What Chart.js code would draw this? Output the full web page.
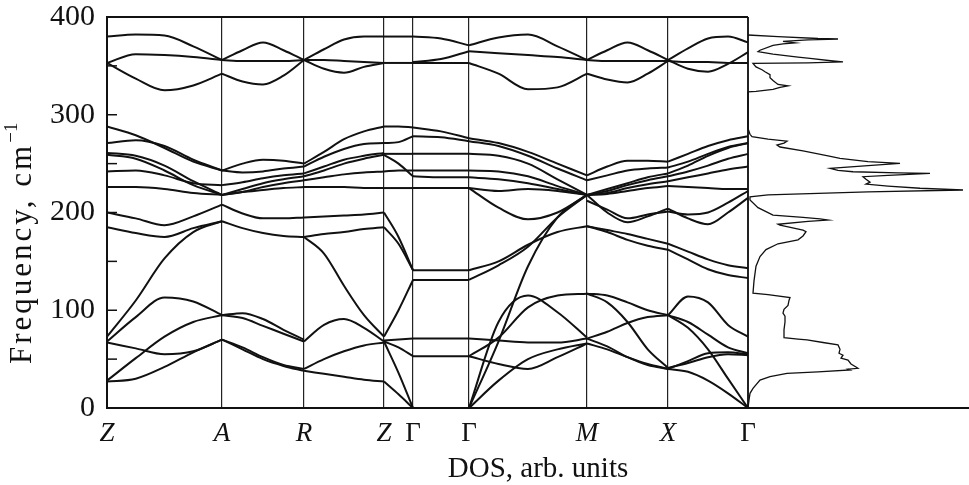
<!DOCTYPE html>
<html>
<head>
<meta charset="utf-8">
<script src="https://cdn.jsdelivr.net/npm/chart.js@4.4.0/dist/chart.umd.min.js"></script>
<style>
    body { margin: 0; background: #fff; }
    #wrap { width: 969px; height: 485px; }
</style>
</head>
<body>
<div id="wrap"><canvas id="phonons" width="969" height="485"></canvas></div>
<script>
// high-symmetry points along the path (path units)
const kPos = [0, 115, 197, 277, 306, 362, 480, 561, 641];
const kLabels = ["Z", "A", "R", "Z", "Γ", "Γ", "M", "X", "Γ"];
const freqTicks = [0, 100, 200, 300, 400];

// branches of each segment, frequency (cm-1) at evenly spaced points
const bandsZA = [
    [380, 382, 381, 370, 356], [353, 362, 361, 359, 356], [353, 337, 325, 330, 342],
    [288, 279, 266, 252, 243], [271, 274, 268, 254, 243], [261, 258, 248, 232, 218],
    [259, 255, 243, 228, 218], [242, 243, 238, 230, 228], [226, 226, 224, 220, 218],
    [200, 194, 187, 196, 208], [185, 179, 175, 184, 191], [73, 110, 153, 180, 191],
    [68, 93, 113, 109, 95], [28, 51, 73, 88, 95], [67, 61, 55, 58, 70], [27, 30, 42, 57, 70],
];
const bandsAR = [
    [356, 366, 374, 366, 356], [356, 355, 355, 355, 356], [342, 334, 331, 340, 356],
    [243, 250, 254, 253, 250], [243, 241, 242, 245, 247], [228, 231, 235, 238, 240],
    [218, 224, 230, 234, 237], [218, 221, 226, 230, 233], [218, 221, 223, 225, 226],
    [208, 199, 194, 194, 195], [191, 184, 179, 176, 175],
    [95, 97, 91, 80, 70], [95, 92, 84, 76, 68], [70, 62, 52, 44, 40], [70, 60, 50, 43, 38],
];
const bandsRZ = [
    [356, 367, 377, 380, 380], [356, 356, 355, 354, 353], [356, 347, 343, 349, 353],
    [250, 262, 275, 283, 288], [247, 257, 265, 270, 271], [240, 247, 254, 258, 261],
    [237, 243, 250, 255, 259], [233, 236, 239, 241, 242], [226, 226, 226, 225, 225],
    [195, 196, 197, 198, 200], [175, 178, 180, 183, 185], [175, 158, 125, 95, 73],
    [68, 85, 91, 82, 68], [40, 50, 58, 64, 67], [38, 35, 32, 29, 27],
];
const bandsZG = [
    [380, 380, 380], [353, 353, 353],
    [288, 288, 287], [271, 272, 278], [260, 260, 260], [259, 250, 237], [242, 243, 243], [225, 225, 225],
    [200, 175, 141], [185, 168, 141], [73, 100, 131], [69, 70, 71], [68, 62, 53], [68, 36, 0], [27, 14, 0],
];
const bandsGG = [
    [380, 378, 371], [353, 353, 353], [354, 357, 365],
    [287, 283, 276], [278, 277, 273], [260, 260, 260], [243, 243, 243], [237, 236, 236], [225, 225, 225],
    [141, 141, 141], [131, 131, 131], [71, 71, 71], [53, 53, 53],
];
const bandsGM = [
    [371, 379, 382, 370, 356], [365, 363, 361, 359, 356], [353, 342, 326, 328, 342],
    [276, 271, 262, 250, 238], [273, 268, 258, 245, 233], [260, 258, 250, 234, 218],
    [243, 242, 237, 227, 218], [236, 234, 230, 224, 218], [225, 222, 224, 222, 218],
    [225, 205, 193, 200, 218],
    [141, 150, 167, 180, 186], [131, 146, 165, 195, 218], [0, 68, 145, 195, 218],
    [71, 69, 67, 67, 71], [53, 72, 103, 115, 117], [53, 45, 40, 52, 66],
    [0, 88, 115, 98, 72], [0, 28, 50, 60, 66],
];
const bandsMX = [
    [356, 366, 374, 366, 356], [356, 355, 355, 355, 355], [342, 336, 333, 342, 355],
    [238, 247, 253, 253, 252], [233, 238, 243, 245, 246], [218, 224, 230, 236, 240],
    [218, 222, 228, 233, 237], [218, 220, 225, 229, 232], [218, 219, 222, 225, 227],
    [218, 200, 190, 196, 204], [212, 203, 194, 198, 201],
    [186, 182, 178, 173, 168], [186, 180, 172, 166, 162],
    [117, 115, 108, 100, 95], [71, 78, 87, 93, 95], [117, 108, 88, 60, 41],
    [71, 63, 52, 44, 40], [66, 60, 52, 45, 40],
];
const bandsXG = [
    [356, 368, 378, 380, 374], [356, 347, 344, 352, 364], [355, 354, 354, 353, 353],
    [252, 260, 268, 274, 278], [246, 252, 260, 267, 271], [240, 248, 258, 266, 271],
    [237, 242, 248, 255, 260], [232, 236, 240, 244, 247], [227, 226, 225, 224, 224],
    [204, 194, 188, 200, 215], [201, 198, 200, 210, 222],
    [168, 160, 152, 146, 143], [162, 152, 142, 136, 133],
    [95, 114, 108, 85, 73], [95, 88, 75, 62, 56], [95, 82, 60, 30, 0],
    [40, 48, 56, 57, 55], [41, 46, 52, 55, 54], [40, 37, 28, 15, 0],
];
const segments = [bandsZA, bandsAR, bandsRZ, bandsZG, bandsGG, bandsGM, bandsMX, bandsXG];

// phonon density of states, traced top to bottom
const dosFreq = [
    381.6, 380, 378, 377.5, 376.5, 375, 373.5, 372.5, 371, 366, 364.5, 362, 359, 357.7, 355, 354, 353,
    352.5, 349, 346, 344, 341, 338, 335, 331, 329.5, 328, 326, 324, 323.5, 300, 286, 280, 277.5, 275,
    273, 271, 269, 267, 263, 258, 255.4, 252, 250.3, 248, 245.2, 243, 241.7, 240.5, 240, 238, 236.6,
    234, 231, 229, 227, 224.8, 223, 221, 218, 216, 212.8, 205, 197.4, 195, 193.5, 192.3, 191, 188, 187,
    182, 180.4, 176, 172, 168, 162, 155, 145, 130, 117.5, 116, 113, 110, 105, 101, 97, 94, 88, 80, 72,
    70.5, 69.6, 67, 64.5, 60, 56, 54, 51, 49, 45, 42, 40.6, 39.8, 38.9, 37, 35.5, 32, 28.6, 20, 15, 8, 0,
];
const dosValue = [
    0, 30, 70, 90, 60, 35, 47, 35, 25, 12, 10, 25, 50, 62, 85, 95, 60,
    5, 8, 14, 17, 22, 22, 25, 30, 40, 32, 25, 8, 0, 0, 0, 2, 4, 20,
    39, 36, 29, 32, 55, 80, 92, 120, 152, 120, 82, 90, 105, 150, 182, 140, 115,
    118, 122, 118, 140, 172, 215, 120, 20, 2, 2, 10, 25, 55, 72, 80, 60, 30, 32,
    55, 58, 55, 50, 30, 18, 12, 8, 6, 5, 20, 42, 41, 40, 36, 35, 37, 37, 36, 36,
    50, 59, 75, 90, 92, 91, 95, 93, 100, 103, 108, 110, 100, 102, 70, 39, 22, 12, 5, 2, 1, 0,
];

const serif = "'Liberation Serif', 'DejaVu Serif', serif";
const ink = "#111";

const datasets = [];
segments.forEach((bands, s) => {
    const x0 = kPos[s];
    const x1 = kPos[s + 1];
    bands.forEach((b) => {
        const n = b.length - 1;
        datasets.push({
            data: b.map((f, i) => ({ x: x0 + ((x1 - x0) * i) / n, y: f })),
            borderColor: ink,
            borderWidth: 2,
            pointRadius: 0,
            cubicInterpolationMode: "monotone",
        });
    });
});
datasets.push({
    data: dosFreq.map((f, i) => ({ x: dosValue[i], y: f })),
    xAxisID: "xd",
    borderColor: ink,
    borderWidth: 1.3,
    pointRadius: 0,
    tension: 0,
});

// top border of the dispersion panel, inner ticks and the y title
const framePlugin = {
    id: "frame",
    afterDraw(chart) {
        const { ctx, chartArea: a, scales } = chart;
        const x = scales.x;
        const y = scales.y;
        ctx.save();
        ctx.strokeStyle = ink;
        ctx.lineWidth = 2;
        ctx.beginPath();
        ctx.moveTo(a.left, a.top);
        ctx.lineTo(x.getPixelForValue(kPos[kPos.length - 1]), a.top);
        ctx.stroke();

        ctx.lineWidth = 1.5;
        for (let f = 50; f < 400; f += 50) {
            const py = y.getPixelForValue(f);
            ctx.beginPath();
            ctx.moveTo(a.left, py);
            ctx.lineTo(a.left + 10, py);
            ctx.stroke();
        }

        ctx.fillStyle = ink;
        ctx.translate(23, 364);
        ctx.rotate(-Math.PI / 2);
        ctx.textBaseline = "middle";
        ctx.textAlign = "left";
        ctx.font = "31px " + serif;
        ctx.letterSpacing = "3px";
        const main = "Frequency, cm";
        ctx.fillText(main, 0, 0);
        const w = ctx.measureText(main).width;
        ctx.font = "19px " + serif;
        ctx.letterSpacing = "0px";
        ctx.fillText("\u22121", w, -11);
        ctx.restore();
    },
};

new Chart(document.getElementById("phonons"), {
    type: "line",
    data: { datasets },
    options: {
        responsive: false,
        animation: false,
        devicePixelRatio: 1,
        layout: { padding: { top: 17, right: 0, left: 0, bottom: 0 } },
        plugins: { legend: { display: false }, tooltip: { enabled: false } },
        scales: {
            x: {
                type: "linear",
                min: 0,
                max: 862,
                afterFit: (scale) => {
                    scale.height = 77;
                    scale.paddingLeft = 0;
                    scale.paddingRight = 0;
                },
                afterBuildTicks: (scale) => {
                    scale.ticks = kPos.map((v) => ({ value: v }));
                },
                ticks: {
                    autoSkip: false,
                    maxRotation: 0,
                    padding: 10,
                    color: ink,
                    font: (c) => ({
                        family: serif,
                        size: 27,
                        style: kLabels[c.index] === "Γ" ? "normal" : "italic",
                    }),
                    callback: (value, index) => kLabels[index],
                },
                grid: {
                    drawTicks: false,
                    color: "#222",
                    lineWidth: (c) => (c.index === kPos.length - 1 ? 2 : 1.2),
                },
                border: { display: true, color: ink, width: 2 },
                title: {
                    display: true,
                    text: "DOS, arb. units",
                    color: ink,
                    font: { family: serif, size: 29 },
                    padding: { top: 0, bottom: -2 },
                },
            },
            xd: {
                type: "linear",
                display: false,
                min: -641,
                max: 221,
            },
            y: {
                min: 0,
                max: 400,
                afterFit: (scale) => {
                    scale.width = 107;
                    scale.paddingTop = 0;
                    scale.paddingBottom = 0;
                },
                afterBuildTicks: (scale) => {
                    scale.ticks = freqTicks.map((v) => ({ value: v }));
                },
                ticks: {
                    padding: 12,
                    color: ink,
                    font: { family: serif, size: 30 },
                },
                grid: { display: false, drawTicks: false },
                border: { display: true, color: ink, width: 2 },
            },
        },
    },
    plugins: [framePlugin],
});
</script>
</body>
</html>
